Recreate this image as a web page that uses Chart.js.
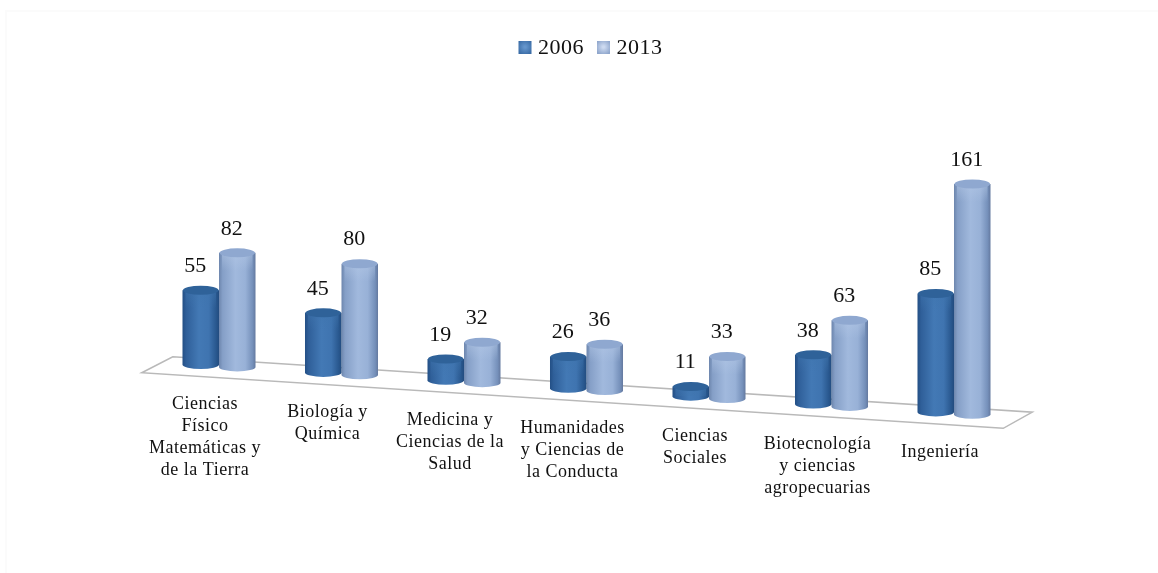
<!DOCTYPE html>
<html lang="es">
<head>
<meta charset="utf-8">
<title>Cilindros 2006-2013</title>
<script src="https://cdn.jsdelivr.net/npm/chart.js@4/dist/chart.umd.js"></script>
<style>
  html, body { margin: 0; background: #fff; }
  #wrap { position: relative; width: 1158px; height: 573px; overflow: hidden; }
  #frame { position: absolute; left: 5px; top: 10px; right: 0; bottom: 0; border-left: 2px solid #fbfbfb; border-top: 2px solid #fbfbfb; }
  canvas { position: absolute; left: 0; top: 0; }
</style>
</head>
<body>
<div id="wrap">
  <div id="frame"></div>
  <canvas id="chart" width="1158" height="573"></canvas>
</div>
<script>
// --- datos ---
const categories = [
  ['Ciencias', 'Físico', 'Matemáticas y', 'de la Tierra'],
  ['Biología y', 'Química'],
  ['Medicina y', 'Ciencias de la', 'Salud'],
  ['Humanidades', 'y Ciencias de', 'la Conducta'],
  ['Ciencias', 'Sociales'],
  ['Biotecnología', 'y ciencias', 'agropecuarias'],
  ['Ingeniería']
];
const seriesNames = ['2006', '2013'];
const values2006 = [55, 45, 19, 26, 11, 38, 85];
const values2013 = [82, 80, 32, 36, 33, 63, 161];

// --- perspectiva del suelo ---
const SLOPE = 0.0645;     // caída del suelo por pixel horizontal
const RY = 4.5;           // semieje vertical de la elipse del cilindro
const AXIS_MIN = 4.5;     // el suelo arranca algo por encima de cero, la base del cilindro lo compensa
const SERIF = '"Liberation Serif", serif';

const palettes = [
  {
    body: [[0, '#234f85'], [0.1, '#2f5f99'], [0.45, '#4379b5'], [0.72, '#3f74b0'], [0.92, '#29588f'], [1, '#234c7f']],
    top: '#2f6299', rim: '#3f75ae', swatch: ['#6495cc', '#3a6ca6']
  },
  {
    body: [[0, '#6d86ad'], [0.1, '#859fc7'], [0.45, '#a1b9dd'], [0.72, '#98b1d7'], [0.92, '#7590ba'], [1, '#64799f']],
    top: '#8fa8d0', rim: '#b4c8e6', swatch: ['#cddaf0', '#8fa6cc']
  }
];

// desplazamiento vertical para una x dada
function drop(chart, x) {
  return (x - chart.scales.x.getPixelForValue(0)) * SLOPE;
}

// barra dibujada como cilindro apoyado en el suelo inclinado
class CylinderBar extends Chart.BarElement {
  draw(ctx) {
    const { x, y, base, width } = this.getProps(['x', 'y', 'base', 'width']);
    const pal = this.$palette;
    const shift = drop(this.$chart, x);
    const left = x - width / 2;
    const right = x + width / 2;
    const top = y + shift;
    const bottom = base + shift;
    const rx = width / 2;

    ctx.save();
    const body = ctx.createLinearGradient(left, 0, right, 0);
    pal.body.forEach(([pos, color]) => body.addColorStop(pos, color));
    ctx.fillStyle = body;
    ctx.beginPath();
    ctx.moveTo(left, top);
    ctx.lineTo(left, bottom);
    ctx.ellipse(x, bottom, rx, RY, 0, Math.PI, 0, true);
    ctx.lineTo(right, top);
    ctx.closePath();
    ctx.fill();

    // reflejo claro bajo la tapa
    const band = ctx.createLinearGradient(0, top, 0, top + 18);
    band.addColorStop(0, pal.rim);
    band.addColorStop(1, pal.rim + '00');
    ctx.globalAlpha = 0.55;
    ctx.fillStyle = band;
    ctx.fillRect(left + 3, top, width - 6, Math.min(18, bottom - top));
    ctx.globalAlpha = 1;

    // tapa
    ctx.fillStyle = pal.top;
    ctx.beginPath();
    ctx.ellipse(x, top, rx - 0.5, RY, 0, 0, Math.PI * 2);
    ctx.fill();
    ctx.restore();
  }
}
CylinderBar.id = 'cylinderBar';
CylinderBar.defaults = Chart.BarElement.defaults;
CylinderBar.defaultRoutes = Chart.BarElement.defaultRoutes;

class CylinderController extends Chart.BarController {
  updateElements(bars, start, count, mode) {
    super.updateElements(bars, start, count, mode);
    bars.forEach(b => {
      b.$chart = this.chart;
      b.$palette = palettes[this.index];
    });
  }
}
CylinderController.id = 'cylinder';
CylinderController.defaults = { ...Chart.BarController.defaults, dataElementType: 'cylinderBar' };
CylinderController.overrides = Chart.BarController.overrides;
Chart.register(CylinderBar, CylinderController);

// suelo en perspectiva, detrás de las barras
const floorPlugin = {
  id: 'floor',
  beforeDatasetsDraw(chart) {
    const { ctx, scales: { x, y } } = chart;
    const at = (px, depth) => [px, y.bottom + drop(chart, px) + depth];
    const corners = [at(x.left - 16, 12), at(x.left + 15, -6), at(x.right + 17, -6), at(x.right - 12, 12)];
    ctx.save();
    ctx.strokeStyle = '#b9b9b9';
    ctx.lineWidth = 1.5;
    ctx.beginPath();
    corners.forEach(([px, py], i) => (i ? ctx.lineTo(px, py) : ctx.moveTo(px, py)));
    ctx.closePath();
    ctx.stroke();
    ctx.restore();
  }
};

// valores sobre cada cilindro y etiquetas de categoría siguiendo el suelo
const textPlugin = {
  id: 'texts',
  afterDatasetsDraw(chart) {
    const { ctx, scales: { x, y } } = chart;
    ctx.save();
    ctx.fillStyle = '#111';
    ctx.textAlign = 'center';
    ctx.textBaseline = 'middle';

    ctx.font = '22px ' + SERIF;
    chart.data.datasets.forEach((ds, d) => {
      chart.getDatasetMeta(d).data.forEach((bar, i) => {
        ctx.fillText(String(ds.data[i]), bar.x - 5.5, bar.y + drop(chart, bar.x) - 24);
      });
    });

    ctx.font = '18px ' + SERIF;
    ctx.letterSpacing = '0.5px';
    categories.forEach((lines, i) => {
      const cx = x.getPixelForValue(i);
      const first = y.bottom + drop(chart, cx) + 39;
      lines.forEach((line, n) => ctx.fillText(line, cx - 14, first + n * 22));
    });
    ctx.restore();
  }
};

// leyenda con muestras cuadradas degradadas y poco aire junto al texto
const legendPlugin = {
  id: 'cylinderLegend',
  afterDraw(chart) {
    const { ctx } = chart;
    const swatchX = [518.5, 597];
    ctx.save();
    ctx.textAlign = 'left';
    ctx.textBaseline = 'middle';
    ctx.font = '22px ' + SERIF;
    ctx.letterSpacing = '0.5px';
    seriesNames.forEach((name, i) => {
      const sx = swatchX[i];
      const g = ctx.createRadialGradient(sx + 6.5, 47, 1, sx + 6.5, 47, 8);
      g.addColorStop(0, palettes[i].swatch[0]);
      g.addColorStop(1, palettes[i].swatch[1]);
      ctx.fillStyle = g;
      ctx.fillRect(sx, 41, 13, 13);
      ctx.fillStyle = '#111';
      ctx.fillText(name, sx + 19.5, 48);
    });
    ctx.restore();
  }
};

new Chart(document.getElementById('chart'), {
  type: 'cylinder',
  data: {
    labels: categories,
    datasets: [
      { label: seriesNames[0], data: values2006, backgroundColor: '#3a6ca6', clip: false, base: AXIS_MIN },
      { label: seriesNames[1], data: values2013, backgroundColor: '#98afd6', clip: false, base: AXIS_MIN }
    ]
  },
  options: {
    responsive: false,
    animation: false,
    categoryPercentage: 0.596,
    barPercentage: 1,
    layout: { padding: { left: 157.75, right: 142.75, top: 81, bottom: 207.3 } },
    scales: {
      x: { display: false },
      y: { display: false, min: AXIS_MIN, max: 198 }
    },
    plugins: {
      tooltip: { enabled: false },
      legend: { display: false }
    }
  },
  plugins: [floorPlugin, textPlugin, legendPlugin]
});
</script>
</body>
</html>
